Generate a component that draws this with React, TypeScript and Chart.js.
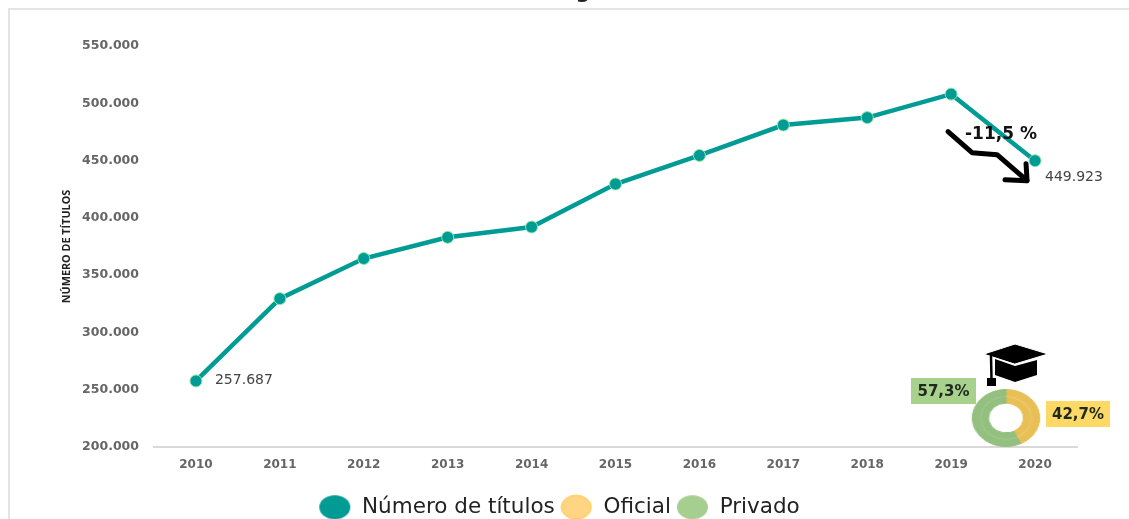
import React, { useEffect, useRef } from "react";
import { Chart, registerables } from "chart.js";

Chart.register(...registerables);

const years = ["2010", "2011", "2012", "2013", "2014", "2015", "2016", "2017", "2018", "2019", "2020"];
const titulos = [257687, 329500, 364500, 383000, 392000, 429500, 454500, 481000, 487500, 508000, 449923];
const legendNames = ["Número de títulos", "Oficial", "Privado"];
const sectorNames = ["Oficial", "Privado"];
const sectorShares = [42.7, 57.3];
const changeLabel = "-11,5 %";
const axisTitle = "NÚMERO DE TÍTULOS";

const TEAL = "#009B95";
const fmt = (v: number) => String(v).replace(/\B(?=(\d{3})+(?!\d))/g, ".");
const pct = (v: number) => String(v).replace(".", ",") + "%";

function ellipse(w: number, h: number, fill: string, stroke?: string) {
  const c = document.createElement("canvas");
  c.width = w;
  c.height = h;
  const x = c.getContext("2d")!;
  x.beginPath();
  x.ellipse(w / 2, h / 2, w / 2 - 1, h / 2 - 1, 0, 0, Math.PI * 2);
  x.fillStyle = fill;
  x.fill();
  if (stroke) {
    x.strokeStyle = stroke;
    x.lineWidth = 1;
    x.stroke();
  }
  return c;
}

function poly(ctx: CanvasRenderingContext2D, pts: number[][]) {
  ctx.beginPath();
  pts.forEach(([a, b], i) => (i ? ctx.lineTo(a, b) : ctx.moveTo(a, b)));
}

const decor = {
  id: "decor",
  afterLayout(chart: any) {
    chart.legend.left = 0;
    chart.legend.right = 1118;
    chart.legend.top = 519 - chart.legend.height + 9;
    chart.legend.bottom = chart.legend.top + chart.legend.height;
  },
  beforeDraw(chart: any) {
    const ctx = chart.ctx;
    ctx.save();
    ctx.fillStyle = "#E4E4E4";
    ctx.fillRect(8, 8, 1121, 2);
    ctx.fillRect(8, 8, 2, 511);
    ctx.fillStyle = "#222";
    ctx.font = "bold 20px 'DejaVu Sans'";
    ctx.textAlign = "center";
    ctx.textBaseline = "alphabetic";
    ctx.fillText("g", 583, -2);
    ctx.restore();
  },
  afterDatasetsDraw(chart: any) {
    const ctx = chart.ctx;
    const pts = chart.getDatasetMeta(0).data;
    const first = pts[0];
    const last = pts[pts.length - 1];
    ctx.save();
    ctx.textBaseline = "middle";
    ctx.textAlign = "left";
    ctx.fillStyle = "#444";
    ctx.font = "14px 'DejaVu Sans'";
    ctx.fillText(fmt(titulos[0]), first.x + 19, first.y - 1);
    ctx.fillText(fmt(titulos[titulos.length - 1]), last.x + 10, last.y + 17);

    // trend arrow, placed relative to the last point
    const ox = last.x;
    const oy = last.y;
    ctx.strokeStyle = "#000";
    ctx.lineWidth = 5;
    ctx.lineJoin = "round";
    ctx.lineCap = "round";
    poly(ctx, [[ox - 87, oy - 29], [ox - 63, oy - 8], [ox - 38, oy - 6], [ox - 8, oy + 20]]);
    ctx.stroke();
    poly(ctx, [[ox - 30, oy + 19], [ox - 8, oy + 20], [ox - 9, oy + 3]]);
    ctx.stroke();
    ctx.fillStyle = "#111";
    ctx.font = "bold 17px 'DejaVu Sans'";
    ctx.fillText(changeLabel, 965, 135);

    // graduation cap
    ctx.fillStyle = "#000";
    poly(ctx, [[995, 359], [1015, 366], [1037, 360], [1037, 375], [1015, 382], [995, 375]]);
    ctx.fill();
    ctx.strokeStyle = "#fff";
    ctx.lineWidth = 1;
    poly(ctx, [[984, 354], [1015, 344], [1048, 354], [1015, 364]]);
    ctx.closePath();
    ctx.fill();
    ctx.stroke();
    ctx.strokeStyle = "#000";
    ctx.lineWidth = 2.5;
    poly(ctx, [[991, 356], [991.5, 379]]);
    ctx.stroke();
    ctx.fillRect(987, 378, 9, 8);

    // share tags
    const tags = [
      { x: 911, y: 378, w: 65, h: 26, fill: "#A9D18E", value: sectorShares[1] },
      { x: 1046, y: 401, w: 64, h: 26, fill: "#FFD966", value: sectorShares[0] },
    ];
    ctx.textAlign = "center";
    ctx.font = "bold 15px 'DejaVu Sans'";
    tags.forEach((t) => {
      ctx.fillStyle = t.fill;
      ctx.fillRect(t.x, t.y, t.w, t.h);
      ctx.fillStyle = "#1E2A1E";
      ctx.fillText(pct(t.value), t.x + t.w / 2, t.y + t.h / 2 + 1);
    });
    ctx.restore();
  },
};

export default function App() {
  const lineRef = useRef<HTMLCanvasElement>(null);
  const ringRef = useRef<HTMLCanvasElement>(null);

  useEffect(() => {
    const legendIcons = [
      ellipse(33, 26, TEAL),
      ellipse(32, 26, "#FFD583", "#FFC93C"),
      ellipse(33, 26, "#A5CE8F"),
    ];
    const line = new Chart(lineRef.current!, {
      type: "line",
      data: {
        labels: years,
        datasets: [
          {
            label: legendNames[0],
            data: titulos,
            borderColor: TEAL,
            borderWidth: 4.5,
            tension: 0,
            pointRadius: 6,
            pointBackgroundColor: TEAL,
            pointBorderColor: "#8FE8A8",
            pointBorderWidth: 1,
          },
        ],
      },
      options: {
        animation: false,
        responsive: false,
        layout: { padding: { left: 60, right: 52, top: 46, bottom: 0 } },
        scales: {
          x: {
            offset: true,
            grid: { display: false },
            border: { color: "#D9D9D9", width: 2 },
            ticks: {
              color: "#666",
              padding: 3,
              maxRotation: 0,
              font: { family: "DejaVu Sans", size: 12, weight: "bold" },
            },
            afterFit(scale: any) {
              scale.height = 519 - 447 - scale.chart.legend.height;
            },
          },
          y: {
            min: 200000,
            max: 550000,
            grid: { display: false },
            border: { display: false },
            ticks: {
              stepSize: 50000,
              color: "#666",
              padding: 7,
              font: { family: "DejaVu Sans", size: 12.5, weight: "bold" },
              callback: (v: any) => fmt(Number(v)),
            },
            title: {
              display: true,
              text: axisTitle,
              color: "#222",
              padding: 0,
              font: { family: "Open Sans", size: 10.8, weight: "bold" },
            },
            afterFit(scale: any) {
              scale.width = 94;
            },
          },
        },
        plugins: {
          tooltip: { enabled: false },
          title: { display: false },
          legend: {
            display: true,
            position: "bottom",
            labels: {
              usePointStyle: true,
              pointStyleWidth: 33,
              padding: 5,
              color: "#222",
              font: { family: "DejaVu Sans", size: 21.5 },
              generateLabels: () =>
                legendNames.map((n, i) => ({
                  text: n,
                  pointStyle: legendIcons[i],
                  fontColor: "#222",
                  hidden: false,
                  datasetIndex: 0,
                })),
            },
          },
        },
      },
      plugins: [decor],
    } as any);

    const ringColors = ["#E8BF55", "#93BF7F"];
    const ringLight = ["#EDCB72", "#9FC68D"];
    const ring = new Chart(ringRef.current!, {
      type: "doughnut",
      data: {
        labels: sectorNames,
        datasets: [
          { data: sectorShares, backgroundColor: ringColors, borderColor: ringColors, borderWidth: 1, weight: 6 },
          { data: sectorShares, backgroundColor: ringLight, borderColor: ringLight, borderWidth: 0.5, weight: 1 },
          { data: sectorShares, backgroundColor: ringColors, borderColor: ringColors, borderWidth: 1, weight: 6 },
        ],
      },
      options: {
        animation: false,
        responsive: false,
        cutout: "52%",
        layout: { padding: 0 },
        plugins: { legend: { display: false }, tooltip: { enabled: false } },
      },
    } as any);

    return () => {
      line.destroy();
      ring.destroy();
    };
  }, []);

  return (
    <div style={{ position: "fixed", left: 0, top: 0, width: 1129, height: 519, overflow: "hidden", background: "#fff" }}>
      <canvas ref={lineRef} width={1129} height={519} style={{ display: "block", width: 1129, height: 519 }} />
      <div style={{ position: "absolute", left: 977, top: 389, width: 58, height: 58, transform: "scaleX(1.18)" }}>
        <canvas ref={ringRef} width={58} height={58} style={{ display: "block", width: 58, height: 58 }} />
      </div>
    </div>
  );
}
